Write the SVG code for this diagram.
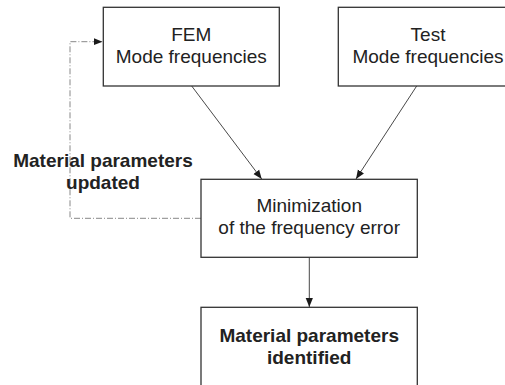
<svg xmlns="http://www.w3.org/2000/svg" width="505" height="385" viewBox="0 0 505 385">
<defs>
<marker id="ah" viewBox="0 0 10 10" refX="10" refY="5" markerWidth="9" markerHeight="9" markerUnits="userSpaceOnUse" orient="auto">
<path d="M0,1 L10,5 L0,9 Z" fill="#1a1a1a"/>
</marker>
<style>
.box{fill:#fff;stroke:#333;stroke-width:1.3}
.t{font-family:"Liberation Sans",Arial,sans-serif;font-size:19px;fill:#222;text-anchor:middle}
.b{font-weight:bold}
.c{stroke:#333;stroke-width:0.9;fill:none}
.d{stroke:#888;stroke-width:1;fill:none;stroke-dasharray:6 2 1 2}
</style>
</defs>
<rect width="505" height="385" fill="#fff"/>
<g id="connectors">
<line class="c" x1="191.7" y1="86" x2="261.7" y2="179" marker-end="url(#ah)"/>
<line class="c" x1="416.7" y1="86" x2="356" y2="179" marker-end="url(#ah)"/>
<line class="c" x1="309.3" y1="257.3" x2="309.3" y2="307" marker-end="url(#ah)"/>
<polyline class="d" points="201,218.3 70,218.3 70,41.7 102.5,41.7" marker-end="url(#ah)"/>
</g>
<g id="fem">
<rect class="box" x="103.3" y="7.3" width="176" height="78.7"/>
<text class="t" x="191.3" y="40.7">FEM</text>
<text class="t" x="191.3" y="63.3">Mode frequencies</text>
</g>
<g id="test">
<rect class="box" x="338.3" y="7.3" width="176" height="78.7"/>
<text class="t" x="428" y="40.7">Test</text>
<text class="t" x="428" y="63.3">Mode frequencies</text>
</g>
<g id="label-updated">
<text class="t b" x="103" y="166.7">Material parameters</text>
<text class="t b" x="103" y="189.3">updated</text>
</g>
<g id="minimization">
<rect class="box" x="201" y="179.3" width="216.3" height="78"/>
<text class="t" x="309.2" y="211.7">Minimization</text>
<text class="t" x="309.2" y="234.3">of the frequency error</text>
</g>
<g id="identified">
<rect class="box" x="201" y="307.3" width="216.3" height="100"/>
<text class="t b" x="309.2" y="341.7">Material parameters</text>
<text class="t b" x="309.2" y="364.3">identified</text>
</g>
</svg>
